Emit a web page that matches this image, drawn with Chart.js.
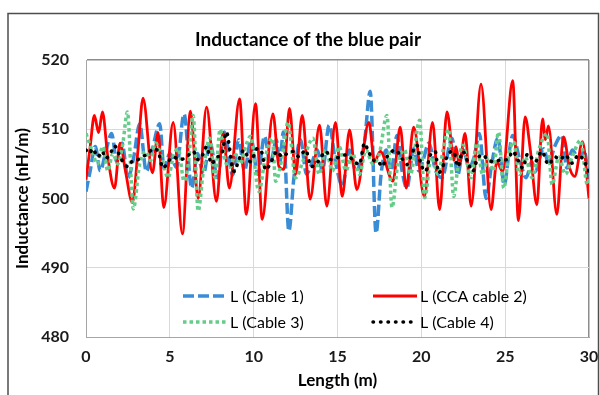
<!DOCTYPE html>
<html>
<head>
<meta charset="utf-8">
<script src="https://cdn.jsdelivr.net/npm/chart.js@4.4.1/dist/chart.umd.min.js"></script>
<style>
  html, body { margin: 0; padding: 0; background: #fff; }
  #wrap { width: 600px; height: 395px; position: relative; }
</style>
</head>
<body>
<div id="wrap"><canvas id="inductanceChart"></canvas></div>
<script>
// Inductance of the blue pair
const chartTitle = 'Inductance of the blue pair';
const xTitle = 'Length (m)';
const yTitle = 'Inductance (nH/m)';
const seriesNames = ['L (Cable 1)', 'L (CCA cable 2)', 'L (Cable 3)', 'L (Cable 4)'];

// L (Cable 1) - blue dashed
const cable1X = [0, 0.25, 0.55, 0.85, 1.2, 1.53, 1.83, 2.15, 2.5, 2.85, 3.2, 3.6, 3.95, 4.4, 4.65, 5.0, 5.4, 5.85, 6.3, 6.65,
  7.0, 7.4, 7.85, 8.25, 8.75, 9.1, 9.45, 9.85, 10.25, 10.65, 11.0, 11.35, 11.55, 11.77, 12.1, 12.4, 12.8, 13.15, 13.45, 13.8,
  14.1, 14.5, 14.9, 15.3, 15.7, 16.1, 16.6, 16.95, 17.3, 17.6, 17.9, 18.2, 18.55, 18.85, 19.14, 19.54, 19.85, 20.1, 20.45, 20.85,
  21.23, 21.83, 22.17, 22.5, 22.85, 23.15, 23.46, 23.86, 24.2, 24.56, 24.95, 25.2, 25.45, 25.85, 26.25, 26.59, 26.79, 27.29, 27.6, 27.95,
  28.38, 28.68, 29.0, 29.38, 29.7, 30];
const cable1L = [501, 504, 507.5, 504, 507, 509.4, 505.3, 508, 503, 506, 510.8, 503.9, 507, 510.8, 504.4, 506.5, 504.5, 512.2, 501.5, 506.5,
  503.5, 508, 503, 509.6, 503.4, 508.5, 504, 508.5, 503.5, 509, 505, 508.5, 505, 509.6, 495.3, 503, 508.5, 503.5, 505, 507,
  504, 510.6, 505, 501.8, 507, 504, 508, 515.5, 495, 503.5, 507, 504, 509.1, 504, 501.5, 507.2, 504, 505.5, 508, 504,
  503, 508.7, 503.4, 507, 504.5, 506, 509.4, 500, 505, 508.7, 502, 506, 509.1, 505.8, 503, 505.3, 503.9, 507.2, 505, 507.5,
  509.1, 504.4, 507, 505.8, 507, 502.5];

// L (CCA cable 2) - red solid
const cable2X = [0, 0.25, 0.5, 0.75, 0.98, 1.3, 1.7, 2.03, 2.35, 2.77, 3.1, 3.4, 3.96, 4.3, 4.64, 5.2, 5.75, 6.23, 6.69, 7.19,
  7.78, 8.18, 8.55, 9.16, 9.56, 10.11, 10.51, 11.15, 11.51, 11.8, 12.14, 12.5, 12.9, 13.37, 13.93, 14.36, 14.88, 15.28, 15.72, 16.15,
  16.87, 17.21, 17.55, 18.31, 18.74, 19.1, 19.54, 20.18, 20.67, 21.09, 21.53, 21.95, 22.07, 22.27, 22.61, 22.97, 23.56, 24.16, 24.5, 24.85,
  25.45, 25.79, 26.19, 26.5, 26.89, 27.23, 27.4, 27.58, 28.08, 28.48, 28.85, 29.15, 29.61, 30];
const cable2L = [502.7, 507.5, 512, 509.5, 512.5, 506, 501.5, 508, 504, 499.4, 507, 514.5, 503.7, 509.5, 498.7, 511, 494.9, 512.6, 500, 513.2,
  499.6, 509.5, 501.5, 514.4, 497.7, 513.7, 497, 512.2, 504.6, 504.2, 513, 503.5, 512, 499.9, 510.6, 498.9, 511, 500.3, 509.9, 501.3,
  511, 505.3, 506.8, 502.5, 510.3, 501.5, 510.3, 500.3, 511, 498.4, 512.5, 505.5, 507.5, 504.8, 509.4, 498.9, 516.5, 498.4, 505.3, 503.9,
  517, 496.8, 511.8, 507, 499.1, 511.5, 508.5, 510.5, 497.7, 508.9, 504.4, 503.2, 508.2, 500];

// L (Cable 3) - green dotted
const cable3X = [0, 0.35, 0.68, 1.0, 1.3, 1.6, 1.9, 2.2, 2.47, 2.82, 3.2, 3.56, 3.85, 4.15, 4.5, 4.9, 5.2, 5.5, 5.85, 6.1,
  6.39, 6.69, 7.0, 7.38, 7.7, 8.0, 8.3, 8.58, 8.92, 9.2, 9.52, 9.81, 10.31, 10.7, 11.11, 11.31, 11.7, 12.05, 12.5, 13.0,
  13.53, 13.9, 14.3, 14.7, 15.1, 15.5, 15.9, 16.3, 16.7, 17.1, 17.5, 17.95, 18.25, 18.6, 19.0, 19.35, 19.9, 20.2, 20.6, 21.0,
  21.3, 21.63, 21.93, 22.2, 22.47, 22.97, 23.3, 23.65, 24.0, 24.3, 24.6, 24.92, 25.2, 25.5, 25.85, 26.2, 26.6, 27.0, 27.5, 27.8,
  28.2, 28.6, 29.0, 29.5, 29.9, 30];
const cable3L = [509.4, 507, 505, 507.5, 504, 506.5, 505, 508, 512.5, 498.5, 505, 506.8, 505.5, 508, 506, 503, 506, 507.2, 502.5, 505,
  512, 498.2, 504, 508.7, 503, 510, 505.5, 504.5, 506.3, 505, 507.5, 509, 501, 506, 508.7, 502.5, 506, 511, 503, 505.8,
  508.7, 503.5, 507, 504, 507.5, 504, 506.5, 503.5, 507, 505, 506.5, 512, 498.7, 505, 507, 503.5, 511.3, 500.1, 506, 503.5,
  507, 510, 500.3, 505, 507.7, 503, 508, 503.5, 506, 504, 509.6, 501.5, 506, 508.2, 503.5, 506, 503, 507, 509.4, 502,
  506, 503.5, 506, 508.4, 502, 503];

// L (Cable 4) - black dotted
const cable4X = [0, 0.2, 0.4, 0.7, 0.97, 1.17, 1.45, 1.7, 1.95, 2.2, 2.5, 2.8, 3.07, 3.36, 3.7, 4.0, 4.3, 4.6, 4.9, 5.2,
  5.6, 6.0, 6.39, 6.69, 6.95, 7.2, 7.48, 7.8, 8.08, 8.38, 8.55, 8.72, 8.85, 9.1, 9.42, 9.81, 10.21, 10.51, 10.71, 11.0,
  11.4, 11.7, 12.0, 12.4, 12.7, 13.1, 13.43, 13.83, 14.32, 14.62, 15.12, 15.52, 16.02, 16.31, 16.61, 16.81, 17.11, 17.45, 17.65, 17.95,
  18.45, 18.84, 19.14, 19.44, 19.74, 19.94, 20.24, 20.54, 20.83, 21.03, 21.33, 21.63, 21.93, 22.17, 22.47, 22.77, 23.06, 23.36, 23.66, 23.96,
  24.36, 24.76, 25.15, 25.45, 25.75, 26.05, 26.35, 26.79, 27.19, 27.58, 27.98, 28.28, 28.58, 28.98, 29.38, 29.77, 30];
const cable4L = [507, 506.5, 507.2, 506, 506.8, 505.8, 506.5, 507.6, 506.5, 505.3, 504.6, 505.5, 505.6, 506, 506.5, 507.2, 506.8, 504.4, 505.3, 506,
  505.6, 506, 506.8, 505.6, 506.3, 507.5, 505, 506, 506.3, 509.6, 507.5, 504.5, 503.9, 505.5, 507, 505.3, 507.2, 506.5, 504.1, 505.1,
  506.8, 506, 506.5, 506.8, 506, 507, 504.6, 505.3, 506.8, 505.6, 506, 506.3, 505.3, 504.9, 508, 507, 505.6, 505.3, 504.6, 506,
  507, 505.8, 504.9, 506.5, 507.7, 505.3, 503.9, 506.3, 506.8, 503.7, 504.9, 506.5, 506.8, 504.6, 506.8, 505.3, 503.9, 505.8, 506.3, 505.6,
  505.3, 505.6, 505.6, 506.8, 505.6, 504.4, 506.5, 505.3, 506.8, 504.9, 506, 505.6, 506.3, 505.1, 506.3, 505.1, 503.9];

const xTicksMin = 0, xTicksMax = 30, xStep = 5;
const yTicksMin = 480, yTicksMax = 520, yStep = 10;

function toPoints(xs, ys) {
    return xs.map((x, i) => ({ x: x, y: ys[i] }));
}

const styles = [
    { color: '#3a8dd4', width: 3.5, dash: [11, 4], cap: 'butt' },
    { color: '#ff0000', width: 2.8, dash: [], cap: 'butt' },
    { color: '#66cc8a', width: 3.5, dash: [3.5, 3], cap: 'butt' },
    { color: '#000000', width: 3.5, dash: [0.5, 7], cap: 'round' }
];
const seriesData = [
    toPoints(cable1X, cable1L),
    toPoints(cable2X, cable2L),
    toPoints(cable3X, cable3L),
    toPoints(cable4X, cable4L)
];

// Excel draws the last series on top; Chart.js draws the first dataset on top
const datasets = [3, 2, 1, 0].map(i => ({
    label: seriesNames[i],
    data: seriesData[i],
    borderColor: styles[i].color,
    backgroundColor: styles[i].color,
    borderWidth: styles[i].width,
    borderDash: styles[i].dash,
    borderCapStyle: styles[i].cap,
    borderJoinStyle: 'round',
    pointRadius: 0,
    cubicInterpolationMode: 'monotone',
    fill: false
}));

// frame, title and in-plot legend
const decorPlugin = {
    id: 'decor',
    beforeDraw(chart) {
        const ctx = chart.ctx;
        ctx.save();
        ctx.fillStyle = '#ffffff';
        ctx.fillRect(0, 0, chart.width, chart.height);
        ctx.restore();
    },
    afterDraw(chart) {
        const ctx = chart.ctx;
        ctx.save();
        ctx.strokeStyle = '#4d4d4d';
        ctx.lineWidth = 1.5;
        ctx.strokeRect(8, 13.5, 590.5, 400);

        ctx.fillStyle = '#000';
        ctx.font = 'bold 19px Lato';
        ctx.textAlign = 'center';
        ctx.textBaseline = 'middle';
        ctx.fillText(chartTitle, 308, 40);

        const legendPos = [[183, 296], [373, 296], [183, 322], [373, 322]];
        ctx.font = '16px Lato';
        ctx.textAlign = 'left';
        seriesNames.forEach((name, i) => {
            const [lx, ly] = legendPos[i];
            const st = styles[i];
            ctx.beginPath();
            ctx.strokeStyle = st.color;
            ctx.lineWidth = st.width;
            ctx.setLineDash(st.dash);
            ctx.lineCap = st.cap;
            ctx.moveTo(lx, ly);
            ctx.lineTo(lx + 44, ly);
            ctx.stroke();
            ctx.setLineDash([]);
            ctx.fillStyle = '#000';
            ctx.fillText(name, lx + 47, ly + 1);
        });
        ctx.restore();
    }
};

const ctxEl = document.getElementById('inductanceChart');
new Chart(ctxEl, {
    type: 'line',
    data: { datasets: datasets },
    plugins: [decorPlugin],
    options: {
        responsive: true,
        maintainAspectRatio: false,
        animation: false,
        layout: { padding: { top: 60, left: 10, right: 11, bottom: 0 } },
        plugins: {
            legend: { display: false },
            title: { display: false },
            tooltip: { enabled: false }
        },
        scales: {
            x: {
                type: 'linear',
                min: xTicksMin,
                max: xTicksMax,
                ticks: {
                    stepSize: xStep,
                    color: '#1a1a1a',
                    padding: 10,
                    maxRotation: 0,
                    font: { family: 'Lato', size: 16, weight: 'bold' }
                },
                grid: {
                    drawTicks: false,
                    color: c => (c.tick && c.tick.value === xTicksMax) ? '#8c8c8c' : '#d9d9d9',
                    lineWidth: c => (c.tick && c.tick.value === xTicksMax) ? 1.5 : 1
                },
                border: { color: '#a6a6a6', width: 1 },
                title: {
                    display: true,
                    text: xTitle,
                    color: '#000',
                    padding: { top: 0, bottom: 4 },
                    font: { family: 'Lato', size: 17, weight: 'bold' }
                },
                afterFit(scale) {
                    scale.height = 58;
                    scale.paddingLeft = 0;
                    scale.paddingRight = 0;
                }
            },
            y: {
                min: yTicksMin,
                max: yTicksMax,
                ticks: {
                    stepSize: yStep,
                    color: '#1a1a1a',
                    padding: 17,
                    font: { family: 'Lato', size: 16, weight: 'bold' }
                },
                grid: {
                    drawTicks: false,
                    color: c => (c.tick && c.tick.value === yTicksMax) ? '#8c8c8c' : '#d9d9d9',
                    lineWidth: c => (c.tick && c.tick.value === yTicksMax) ? 1.5 : 1
                },
                border: { color: '#a6a6a6', width: 1 },
                title: {
                    display: true,
                    text: yTitle,
                    color: '#000',
                    padding: { top: 2, bottom: 0 },
                    font: { family: 'Lato', size: 17, weight: 'bold' }
                },
                afterFit(scale) {
                    scale.width = 76;
                    scale.paddingTop = 0;
                    scale.paddingBottom = 0;
                }
            }
        }
    }
});
</script>
</body>
</html>
